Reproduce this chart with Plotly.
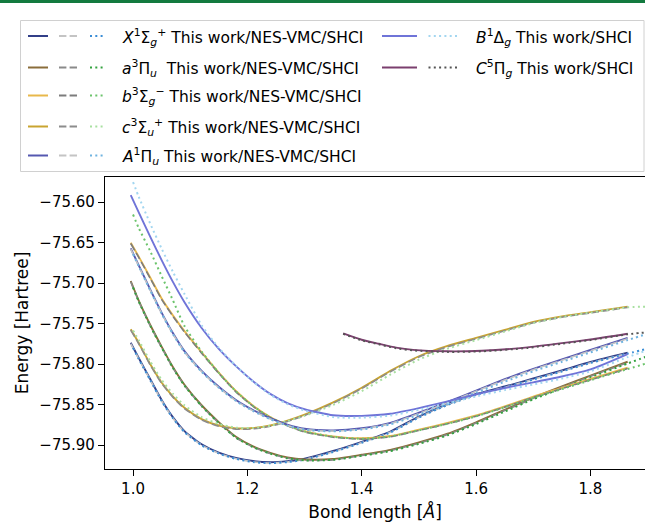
import plotly.graph_objects as go

# ---------------- data ----------------
R = [0.996, 1.01, 1.03, 1.05, 1.07, 1.09, 1.12, 1.15, 1.18, 1.21, 1.24, 1.27, 1.30,
     1.35, 1.40, 1.45, 1.50, 1.55, 1.60, 1.65, 1.70, 1.75, 1.80, 1.865]
R_SHCI = [1.00, 1.01, 1.03, 1.05, 1.07, 1.09, 1.12, 1.15, 1.18, 1.21, 1.24, 1.27, 1.30,
          1.35, 1.40, 1.45, 1.50, 1.55, 1.60, 1.65, 1.70, 1.75, 1.80, 1.865, 1.92]
R_C = [1.3675, 1.40, 1.43, 1.46, 1.49, 1.55, 1.61, 1.69, 1.75, 1.80, 1.865]
R_C_SHCI = [1.3675, 1.40, 1.43, 1.46, 1.49, 1.55, 1.61, 1.69, 1.75, 1.80, 1.865, 1.92]

# This work
X_this = [-75.7737, -75.7926, -75.8185, -75.8443, -75.8659, -75.8828, -75.8991, -75.9093,
          -75.9159, -75.9198, -75.9212, -75.9199, -75.9169, -75.9074, -75.8960, -75.8833,
          -75.8648, -75.8494, -75.8370, -75.8278, -75.8179, -75.8080, -75.7975, -75.7860]
a_this = [-75.6975, -75.7217, -75.7515, -75.7785, -75.8040, -75.8256, -75.8509, -75.8717,
          -75.8898, -75.9016, -75.9096, -75.9153, -75.9179, -75.9173, -75.9120, -75.9060,
          -75.8967, -75.8860, -75.8719, -75.8565, -75.8414, -75.8275, -75.8142, -75.7972]
b_this = [-75.6502, -75.6674, -75.6931, -75.7191, -75.7402, -75.7594, -75.7856, -75.8105,
          -75.8333, -75.8514, -75.8654, -75.8753, -75.8828, -75.8893, -75.8917, -75.8889,
          -75.8810, -75.8728, -75.8635, -75.8522, -75.8402, -75.8294, -75.8185, -75.8046]
c_this = [-75.7572, -75.7740, -75.8000, -75.8228, -75.8402, -75.8540, -75.8680, -75.8759,
          -75.8794, -75.8790, -75.8759, -75.8699, -75.8625, -75.8474, -75.8293, -75.8085,
          -75.7904, -75.7777, -75.7678, -75.7579, -75.7481, -75.7412, -75.7359, -75.7291]
A_this = [-75.6572, -75.6781, -75.7078, -75.7365, -75.7621, -75.7841, -75.8084, -75.8281,
          -75.8444, -75.8568, -75.8669, -75.8748, -75.8799, -75.8819, -75.8793, -75.8726,
          -75.8601, -75.8469, -75.8327, -75.8188, -75.8060, -75.7943, -75.7827, -75.7677]
B_this = [-75.5914, -75.6127, -75.6427, -75.6717, -75.6989, -75.7237, -75.7555, -75.7813,
          -75.8026, -75.8212, -75.8368, -75.8482, -75.8558, -75.8633, -75.8640, -75.8614,
          -75.8544, -75.8462, -75.8375, -75.8296, -75.8226, -75.8154, -75.8067, -75.7877]
C_this = [-75.7621, -75.7700, -75.7750, -75.7797, -75.7825, -75.7843, -75.7836, -75.7794,
          -75.7742, -75.7697, -75.7626]

# NES-VMC
X_nes = [-75.7747, -75.7936, -75.8195, -75.8453, -75.8669, -75.8838, -75.9001, -75.9103,
         -75.9169, -75.9208, -75.9222, -75.9209, -75.9179, -75.9084, -75.8970, -75.8843,
         -75.8658, -75.8504, -75.8380, -75.8288, -75.8189, -75.8090, -75.7985, -75.7870]
a_nes = [-75.6985, -75.7227, -75.7525, -75.7795, -75.8050, -75.8266, -75.8519, -75.8727,
         -75.8908, -75.9026, -75.9106, -75.9163, -75.9189, -75.9183, -75.9130, -75.9070,
         -75.8977, -75.8870, -75.8729, -75.8575, -75.8424, -75.8285, -75.8152, -75.7982]
b_nes = [-75.6512, -75.6684, -75.6941, -75.7201, -75.7412, -75.7604, -75.7866, -75.8115,
         -75.8343, -75.8524, -75.8664, -75.8763, -75.8838, -75.8903, -75.8927, -75.8899,
         -75.8820, -75.8738, -75.8645, -75.8532, -75.8412, -75.8304, -75.8195, -75.8056]
c_nes = [-75.7582, -75.7750, -75.8010, -75.8238, -75.8412, -75.8550, -75.8690, -75.8769,
         -75.8804, -75.8800, -75.8769, -75.8709, -75.8635, -75.8484, -75.8303, -75.8095,
         -75.7914, -75.7787, -75.7688, -75.7589, -75.7491, -75.7422, -75.7369, -75.7301]
A_nes = [-75.6582, -75.6791, -75.7088, -75.7375, -75.7631, -75.7851, -75.8094, -75.8291,
         -75.8454, -75.8578, -75.8679, -75.8758, -75.8809, -75.8829, -75.8803, -75.8736,
         -75.8611, -75.8479, -75.8337, -75.8198, -75.8070, -75.7953, -75.7837, -75.7687]

# SHCI
X_shci = [-75.7800, -75.7938, -75.8197, -75.8455, -75.8671, -75.8840, -75.9003, -75.9105,
          -75.9171, -75.9210, -75.9224, -75.9211, -75.9181, -75.9086, -75.8972, -75.8845,
          -75.8660, -75.8506, -75.8382, -75.8290, -75.8191, -75.8092, -75.7987, -75.7872, -75.7775]
a_shci = [-75.7054, -75.7227, -75.7525, -75.7795, -75.8050, -75.8266, -75.8519, -75.8727,
          -75.8908, -75.9026, -75.9106, -75.9163, -75.9189, -75.9183, -75.9132, -75.9075,
          -75.8985, -75.8880, -75.8740, -75.8587, -75.8436, -75.8297, -75.8164, -75.7994, -75.7850]
b_shci = [-75.6154, -75.6321, -75.6605, -75.6914, -75.7216, -75.7531, -75.7846, -75.8110,
          -75.8338, -75.8519, -75.8659, -75.8758, -75.8833, -75.8898, -75.8922, -75.8895,
          -75.8818, -75.8738, -75.8646, -75.8535, -75.8416, -75.8309, -75.8200, -75.8062, -75.7945]
c_shci = [-75.7585, -75.7705, -75.7965, -75.8195, -75.8370, -75.8510, -75.8655, -75.8740,
          -75.8785, -75.8790, -75.8762, -75.8705, -75.8640, -75.8505, -75.8335, -75.8130,
          -75.7945, -75.7810, -75.7705, -75.7600, -75.7495, -75.7420, -75.7365, -75.7300, -75.7288]
A_shci = [-75.6642, -75.6793, -75.7090, -75.7377, -75.7633, -75.7853, -75.8096, -75.8293,
          -75.8456, -75.8580, -75.8681, -75.8760, -75.8811, -75.8831, -75.8808, -75.8745,
          -75.8625, -75.8495, -75.8355, -75.8218, -75.8090, -75.7973, -75.7857, -75.7705, -75.7580]
B_shci = [-75.5753, -75.5935, -75.6265, -75.6575, -75.6865, -75.7135, -75.7520, -75.7800,
          -75.8022, -75.8218, -75.8378, -75.8495, -75.8575, -75.8655, -75.8662, -75.8636,
          -75.8565, -75.8485, -75.8400, -75.8322, -75.8253, -75.8180, -75.8090, -75.7915, -75.7780]
C_shci = [-75.7628, -75.7707, -75.7757, -75.7804, -75.7832, -75.7850, -75.7843, -75.7801,
          -75.7749, -75.7704, -75.7633, -75.7595]

X_TICKS = [1.0, 1.2, 1.4, 1.6, 1.8]
Y_TICKS = [-75.60, -75.65, -75.70, -75.75, -75.80, -75.85, -75.90]

STATE_LABELS = [
    "<i>X</i><sup>1</sup>Σ<sub><i>g</i></sub><sup>+</sup> This work/NES-VMC/SHCI",
    "<i>a</i><sup>3</sup>Π<sub><i>u</i></sub>  This work/NES-VMC/SHCI",
    "<i>b</i><sup>3</sup>Σ<sub><i>g</i></sub><sup>−</sup> This work/NES-VMC/SHCI",
    "<i>c</i><sup>3</sup>Σ<sub><i>u</i></sub><sup>+</sup> This work/NES-VMC/SHCI",
    "<i>A</i><sup>1</sup>Π<sub><i>u</i></sub> This work/NES-VMC/SHCI",
    "<i>B</i><sup>1</sup>Δ<sub><i>g</i></sub> This work/SHCI",
    "<i>C</i><sup>5</sup>Π<sub><i>g</i></sub> This work/SHCI",
]

# ---------------- styles ----------------
SOLID_C = ['#323f88', '#8a6d3b', '#e8b84b', '#c9a430', '#5558b0', '#6f74d8', '#7b3f6e']
DASH_C = ['#c4c4c4', '#8a8a8a', '#7c7c7c', '#8c8c8c', '#c4c4c4']
DOT_C = ['#3a8dd6', '#33a23f', '#6cc46c', '#a8e0a0', '#6fb3e0', '#a3d6f0', '#555555']
DASH_PAT = '7.4px,3.2px'
DOT_PAT = '2px,3.3px'

fig = go.Figure()

this_sets = [(R, X_this), (R, a_this), (R, b_this), (R, c_this), (R, A_this), (R, B_this), (R_C, C_this)]
nes_sets = [X_nes, a_nes, b_nes, c_nes, A_nes]
shci_sets = [(R_SHCI, X_shci), (R_SHCI, a_shci), (R_SHCI, b_shci), (R_SHCI, c_shci),
             (R_SHCI, A_shci), (R_SHCI, B_shci), (R_C_SHCI, C_shci)]

for i in range(7):
    xs, ys = this_sets[i]
    fig.add_trace(go.Scatter(x=xs, y=ys, mode='lines',
                             line=dict(color=SOLID_C[i], width=1.9, shape='spline', smoothing=0.6),
                             hoverinfo='skip'))
    if i < 5:
        fig.add_trace(go.Scatter(x=R, y=nes_sets[i], mode='lines',
                                 line=dict(color=DASH_C[i], width=1.6, dash=DASH_PAT,
                                           shape='spline', smoothing=0.6),
                                 hoverinfo='skip'))
    xs2, ys2 = shci_sets[i]
    fig.add_trace(go.Scatter(x=xs2, y=ys2, mode='lines',
                             line=dict(color=DOT_C[i], width=2, dash=DOT_PAT,
                                       shape='spline', smoothing=0.6),
                             hoverinfo='skip'))

# ---------------- layout geometry (pixels) ----------------
W, H = 645, 522
L, T, Bm = 105, 177, 53
PW = W - L
PH = H - T - Bm
BOT = H - Bm


def px(xp):
    return (xp - L) / PW


def py(yp):
    return (BOT - yp) / PH


shapes = []
annotations = []

# green strip at the very top of the page
shapes.append(dict(type='rect', xref='paper', yref='paper', x0=px(0), x1=px(W),
                   y0=py(3), y1=py(0), fillcolor='#137a3f', line=dict(width=0), layer='above'))

# legend frame
shapes.append(dict(type='rect', xref='paper', yref='paper', x0=px(20.5), x1=px(644),
                   y0=py(171.5), y1=py(20.5), fillcolor='white',
                   line=dict(color='#d0d0d0', width=1), layer='above'))

rows = [36, 67.5, 95.5, 126.5, 155.5]
for i in range(5):
    yr = rows[i]
    shapes.append(dict(type='line', xref='paper', yref='paper', x0=px(28), x1=px(48),
                       y0=py(yr), y1=py(yr), line=dict(color=SOLID_C[i], width=2), layer='above'))
    shapes.append(dict(type='line', xref='paper', yref='paper', x0=px(59), x1=px(77),
                       y0=py(yr), y1=py(yr), line=dict(color=DASH_C[i], width=2, dash=DASH_PAT),
                       layer='above'))
    shapes.append(dict(type='line', xref='paper', yref='paper', x0=px(90), x1=px(104),
                       y0=py(yr), y1=py(yr), line=dict(color=DOT_C[i], width=2, dash=DOT_PAT),
                       layer='above'))
    annotations.append(dict(xref='paper', yref='paper', x=px(120), y=py(yr + 1),
                            xanchor='left', yanchor='middle', text=STATE_LABELS[i],
                            showarrow=False, font=dict(size=15.5, color='black')))

for k, i in enumerate([5, 6]):
    yr = rows[k]
    shapes.append(dict(type='line', xref='paper', yref='paper', x0=px(382), x1=px(417),
                       y0=py(yr), y1=py(yr), line=dict(color=SOLID_C[i], width=2), layer='above'))
    shapes.append(dict(type='line', xref='paper', yref='paper', x0=px(428.5), x1=px(459),
                       y0=py(yr), y1=py(yr), line=dict(color=DOT_C[i], width=2, dash=DOT_PAT),
                       layer='above'))
    annotations.append(dict(xref='paper', yref='paper', x=px(474), y=py(yr + 1),
                            xanchor='left', yanchor='middle', text=STATE_LABELS[i],
                            showarrow=False, font=dict(size=15.5, color='black')))

fig.update_layout(
    width=W, height=H,
    margin=dict(l=L, r=0, t=T, b=Bm, pad=0),
    plot_bgcolor='white', paper_bgcolor='white',
    showlegend=False,
    font=dict(family='DejaVu Sans', size=15, color='black'),
    shapes=shapes, annotations=annotations,
    xaxis=dict(range=[0.951, 1.8954], tickvals=X_TICKS, tickformat='.1f',
               ticks='outside', ticklen=6, tickwidth=1.3, tickcolor='black',
               showline=True, linecolor='black', linewidth=1.3, mirror=True,
               showgrid=False, zeroline=False, automargin=False,
               tickfont=dict(size=15),
               title=dict(text='Bond length [<i>Å</i>]', font=dict(size=17), standoff=8)),
    yaxis=dict(range=[-75.9296, -75.5691], tickvals=Y_TICKS, tickformat='.2f',
               ticks='outside', ticklen=6, tickwidth=1.3, tickcolor='black',
               showline=True, linecolor='black', linewidth=1.3, mirror=False,
               showgrid=False, zeroline=False, automargin=False,
               tickfont=dict(size=15),
               title=dict(text='Energy [Hartree]', font=dict(size=17), standoff=6)),
)

fig.write_html('out.html', config={'displayModeBar': False},
               post_script="document.body.style.margin='0';document.body.style.padding='0';"
                           "document.documentElement.style.overflow='hidden';")
